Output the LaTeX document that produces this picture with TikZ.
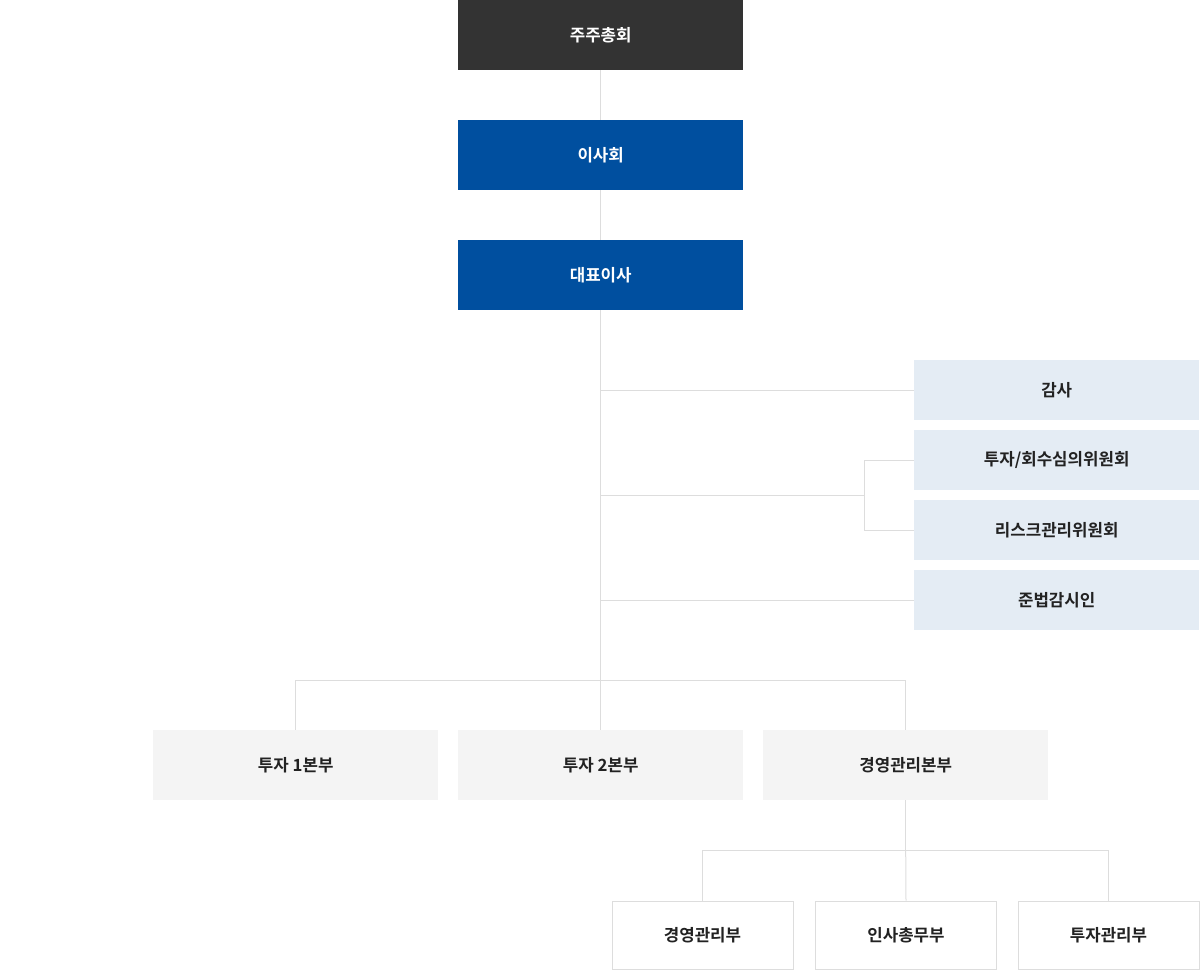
\documentclass[tikz,border=0pt]{standalone}
\usepackage{fontspec}
\newfontfamily\kr{Noto Sans CJK KR}[BoldFont=* Bold]
\definecolor{dark}{HTML}{333333}
\definecolor{navy}{HTML}{004F9F}
\definecolor{lblue}{HTML}{E4ECF4}
\definecolor{lgray}{HTML}{F4F4F4}
\definecolor{conn}{HTML}{DDDDDD}
\definecolor{txt}{HTML}{222222}
\tikzset{
  base/.style={anchor=north west, inner sep=0pt, font=\kr\bfseries\fontsize{16.8}{17}\selectfont, align=center},
  topbox/.style={base, fill=dark, text=white, minimum width=285pt, minimum height=70pt},
  bluebox/.style={base, fill=navy, text=white, minimum width=285pt, minimum height=70pt},
  sidebox/.style={base, fill=lblue, text=txt, minimum width=285pt, minimum height=60pt},
  divbox/.style={base, fill=lgray, text=txt, minimum width=285pt, minimum height=70pt},
  deptbox/.style={base, fill=white, draw=conn, line width=1pt, text=txt, minimum width=181pt, minimum height=68pt},
  conline/.style={draw=conn, line width=1pt}
}
\begin{document}
\begin{tikzpicture}[x=1pt,y=-1pt]
\useasboundingbox (0,0) rectangle (1200,970);

\node[topbox] (gm) at (458,0) {주주총회};
\node[bluebox] (bd) at (458,120) {이사회};
\node[bluebox] (ceo) at (458,240) {대표이사};

\node[sidebox] (audit) at (914,360) {감사};
\node[sidebox] (invc) at (914,430) {투자/회수심의위원회};
\node[sidebox] (risk) at (914,500) {리스크관리위원회};
\node[sidebox] (comp) at (914,570) {준법감시인};

\node[divbox] (d1) at (153,730) {투자 1본부};
\node[divbox] (d2) at (458,730) {투자 2본부};
\node[divbox] (d3) at (763,730) {경영관리본부};

\node[deptbox] (p1) at (611.5,900.5) {경영관리부};
\node[deptbox] (p2) at (815,900.5) {인사총무부};
\node[deptbox] (p3) at (1017.5,900.5) {투자관리부};

\coordinate (v1) at (ceo.south |- audit.west);
\coordinate (v2) at (600,495);
\coordinate (v3) at (ceo.south |- comp.west);
\coordinate (v4) at (600,680);
\coordinate (br) at (864,495);
\coordinate (bar2) at (d3.south |- 0,850);

\path[conline] (gm.south) -- (bd.north);
\path[conline] (bd.south) -- (ceo.north);
\path[conline] (ceo.south) -- (d2.north);
\path[conline] (v1) -- (audit.west);
\path[conline] (v2) -- (br);
\path[conline] (br) |- (invc.west);
\path[conline] (br) |- (risk.west);
\path[conline] (v3) -- (comp.west);
\path[conline] (v4) -| (d1.north);
\path[conline] (v4) -| (d3.north);
\path[conline] (d3.south) -- (bar2);
\path[conline] (bar2) -| (p1.north);
\path[conline] (bar2) -- (p2.north);
\path[conline] (bar2) -| (p3.north);
\end{tikzpicture}
\end{document}
